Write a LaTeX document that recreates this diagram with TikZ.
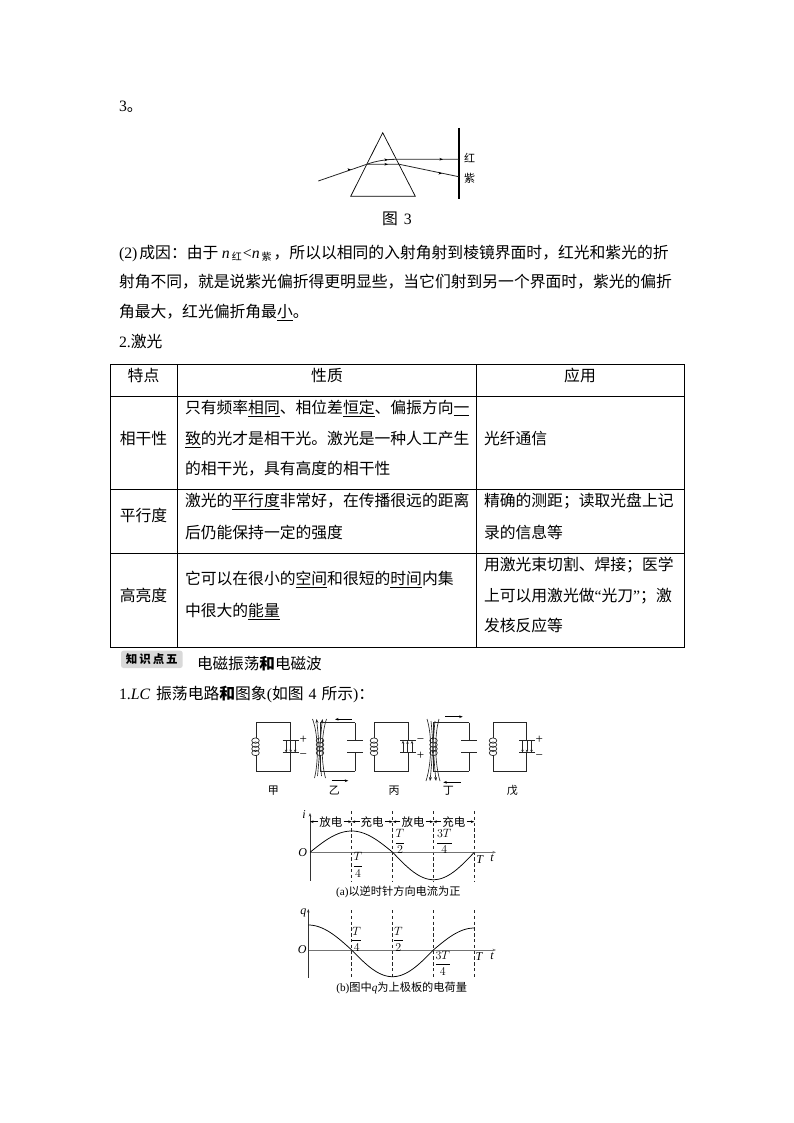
\documentclass[tikz,border=0pt]{standalone}
\usepackage{fontspec}
\usetikzlibrary{arrows.meta}
\setmainfont{Liberation Serif}
\newfontfamily\cjk{Noto Sans CJK SC}
\newfontfamily\lat{Liberation Serif}
\newcommand\fsz[1]{\fontsize{#1}{#1}\selectfont}
\newcommand\lt[1]{{\lat #1}}
\newcommand\li[1]{{\lat\itshape #1}}
\newcommand\ful[1]{\underline{#1}}
\newcommand\lowsub[1]{\raisebox{-2pt}{\fsz{10}#1}}
\newcommand\disfrac[2]{$\displaystyle\frac{#1}{#2}$}
\newcommand\coilat[2]{%
  \foreach \k in {0,1,2,3}{\draw[wire] ({#1},{#2+2.6+\k*4.1}) ellipse [x radius=3.8,y radius=2.7];}}
\newcommand\plates[2]{%
  \draw[wire] ({#1-8},740.7) -- ({#1+8},740.7) ({#1-8},752.7) -- ({#1+8},752.7);
  \draw[wire] (#1,722.7) -- (#1,740.7) (#1,752.7) -- (#1,771.3);}
\newcommand\fieldarrows[3]{%
  \foreach \d in {-4.5,0,4.5}{\draw[wire,-{Stealth[length=3pt,width=2.4pt]}] ({#1+\d},#2) -- ({#1+\d},#3);}}
\newcommand\fieldup[1]{%
  \draw[wire] ({#1-5},778) .. controls ({#1-1},762) and ({#1-1},735) .. ({#1-7},719);
  \draw[wire] ({#1+6},778) .. controls ({#1+1.5},762) and ({#1+1.5},735) .. ({#1+7},719);
  \draw[wire,-{Stealth[length=4pt,width=3pt]}] ({#1+2},776) .. controls ({#1+0.5},762) and ({#1-1},735) .. ({#1-3},719);
  \draw[wire,-{Stealth[length=4pt,width=3pt]}] ({#1-2},776) .. controls ({#1-0.5},762) and ({#1+1},735) .. ({#1+3},719);}
\newcommand\fielddown[1]{%
  \draw[wire] ({#1-6},719) .. controls ({#1-1},735) and ({#1-1},762) .. ({#1-7},781);
  \draw[wire] ({#1+6},719) .. controls ({#1+1.5},735) and ({#1+1.5},762) .. ({#1+7},781);
  \draw[wire,-{Stealth[length=4pt,width=3pt]}] ({#1+2},721) .. controls ({#1+0.5},735) and ({#1-1},762) .. ({#1-3},781);
  \draw[wire,-{Stealth[length=4pt,width=3pt]}] ({#1-2},721) .. controls ({#1-0.5},735) and ({#1+1},762) .. ({#1+3},781);}
\tikzset{
  wire/.style={line width=0.65pt,draw=black!85},
  bodytext/.style={inner sep=0,outer sep=0,anchor=base west,yshift=-5.6pt,font=\cjk\fsz{15.8}},
  cbody/.style={bodytext,anchor=base},
  rlabel/.style={inner sep=0,anchor=base,yshift=-4pt,font=\cjk\fsz{11}},
  slabel/.style={rlabel,font=\lat\fsz{13}},
  captext/.style={inner sep=0,anchor=center,font=\cjk\fsz{11.2}},
  fractext/.style={inner sep=0,anchor=center,font=\lat\fsz{12}},
  axisline/.style={line width=0.75pt,draw=black!80},
  xaxis/.style={line width=1pt,draw=black!55},
  guide/.style={line width=0.65pt,draw=black!85,dash pattern=on 3.4pt off 2.4pt},
  curveline/.style={line width=0.75pt,draw=black},
  ticktip/.style={-{Stealth[length=3.5pt,width=2.6pt]},line width=0.65pt},
  gridline/.style={line width=0.7pt,draw=black}
}
\begin{document}
\begin{tikzpicture}[x=1pt,y=-1pt]
\useasboundingbox (0,0) rectangle (794,1123);
\fill[white] (0,0) rectangle (794,1123);

% top text
\node[bodytext] (t3) at (119,106) {\lt{3}。};

% prism
\draw[line width=0.7pt] (382.7,132.7) -- (350.7,196.3) -- (415.3,196.3) -- cycle;
\draw[line width=1.8pt] (458.7,128) -- (458.7,198.7);
\draw[wire,line width=0.8pt] (318.3,181) -- (366.7,164.3);
\draw[wire,line width=0.8pt] (366.7,164.3) .. controls (376,161) and (386,159.3) .. (396.7,159.3) -- (458.7,159.3);
\draw[wire,line width=0.8pt] (366.7,164.3) -- (399.3,164.3) -- (458.7,176.7);
\foreach \p/\q in {351/169.6,388/159.8,388/164.3,443/159.3,442/173.3}{
  \draw[ticktip] (\p-3,\q) -- (\p,\q);}
\node[rlabel,font=\cjk\fsz{11}] (lred) at (469.5,158.7) {红};
\node[rlabel,font=\cjk\fsz{11}] (lvio) at (469.5,178.7) {紫};
\node[cbody] (fig3) at (397,219) {图\hspace{6pt}\lt{3}};

% paragraph
\node[bodytext] (p1) at (119,253) {\lt{(2)}\hspace{2pt}成因：由于 \li{n}\hspace{2pt}\lowsub{红}\hspace{1pt}\lt{<}\li{n}\hspace{2pt}\lowsub{紫}\hspace{2pt}，所以以相同的入射角射到棱镜界面时，红光和紫光的折};
\node[bodytext] (p2) at (119,282) {射角不同，就是说紫光偏折得更明显些，当它们射到另一个界面时，紫光的偏折};
\node[bodytext] (p3) at (119,312) {角最大，红光偏折角最\ful{小}。};
\node[bodytext] (p4) at (119,342) {\lt{2.}激光};

% table
\draw[gridline] (110,364) rectangle (684,647);
\draw[gridline] (177,364) -- (177,647) (476,364) -- (476,647);
\draw[gridline] (110,396) -- (684,396) (110,489) -- (684,489) (110,553) -- (684,553);
\node[cbody] (h1) at (143.5,376) {特点};
\node[cbody] (h2) at (327,376) {性质};
\node[cbody] (h3) at (580,376) {应用};
\node[cbody] (r1) at (143.5,439) {相干性};
\node[cbody] (r2) at (143.5,516) {平行度};
\node[cbody] (r3) at (143.5,596) {高亮度};
\node[bodytext] (a1) at (185,408) {只有频率\ful{相同}、相位差\ful{恒定}、偏振方向\ful{一}};
\node[bodytext] (a2) at (185,439) {\ful{致}的光才是相干光。激光是一种人工产生};
\node[bodytext] (a3) at (185,469) {的相干光，具有高度的相干性};
\node[bodytext] (b1) at (185,501) {激光的\ful{平行度}非常好，在传播很远的距离};
\node[bodytext] (b2) at (185,533) {后仍能保持一定的强度};
\node[bodytext] (c1) at (185,579) {它可以在很小的\ful{空间}和很短的\ful{时间}内集};
\node[bodytext] (c2) at (185,611) {中很大的\ful{能量}};
\node[bodytext] (d1) at (484,439) {光纤通信};
\node[bodytext] (e1) at (484,501) {精确的测距；读取光盘上记};
\node[bodytext] (e2) at (484,533) {录的信息等};
\node[bodytext] (f1) at (484,565) {用激光束切割、焊接；医学};
\node[bodytext] (f2) at (484,596) {上可以用激光做\lt{“}光刀\lt{”}；激};
\node[bodytext] (f3) at (484,626) {发核反应等};

% heading
\fill[black!15,rounded corners=2.5pt] (121,650.7) rectangle (182.7,668);
\node[inner sep=0,anchor=center,font=\cjk\bfseries\fsz{11.5}] (badge) at (151.8,659.5) {知\,识\,点\,五};
\node[bodytext,font=\cjk\fsz{15.6}] (head) at (197,664) {电磁振荡{\bfseries 和}电磁波};
\node[bodytext] (sec1) at (119,694) {\lt{1.}\li{LC}\hspace{6pt}振荡电路{\bfseries 和}图象\lt{(}如图\hspace{5pt}\lt{4}\hspace{5pt}所示\lt{)}：};

% circuits
% jia
\draw[wire] (256,738) -- (256,722.7) -- (290.7,722.7) -- (290.7,771.3) -- (256,771.3) -- (256,755);
\coilat{255.5}{738}
\fill[white] (285,741.2) rectangle (296,752.2);
\draw[wire] (282.7,740.7) -- (298.7,740.7) (282.7,752.7) -- (298.7,752.7);
\fieldarrows{290.7}{740.7}{752.7}
\node[slabel] (jp) at (303.3,739.3) {+};
\node[slabel] (jm) at (303.3,754.7) {−};
\node[rlabel] (jia) at (273.3,790) {甲};
% yi
\draw[wire] (320,738) -- (320,722.7) -- (355.3,722.7) (355.3,771.3) -- (320,771.3) -- (320,755);
\plates{355.3}{}
\coilat{320}{738}
\fieldup{319.5}
\draw[ticktip,line width=0.8pt] (351.7,719.3) -- (335,719.3);
\draw[ticktip,line width=0.8pt] (331.7,780.7) -- (348.3,780.7);
\node[rlabel] (yi) at (334.3,790) {乙};
% bing
\draw[wire] (374.3,738) -- (374.3,722.7) -- (408.3,722.7) -- (408.3,771.3) -- (374.3,771.3) -- (374.3,755);
\coilat{374}{738}
\fill[white] (401,741.2) rectangle (415,752.2);
\draw[wire] (400,740.7) -- (416,740.7) (400,752.7) -- (416,752.7);
\fieldarrows{407.5}{752.7}{740.7}
\node[slabel] (bm) at (420.5,739) {−};
\node[slabel] (bp) at (420.5,755) {+};
\node[rlabel] (bing) at (394,790) {丙};
% ding
\draw[wire] (433.3,738) -- (433.3,722.7) -- (469,722.7) (469,771.3) -- (433.3,771.3) -- (433.3,755);
\plates{469}{}
\coilat{433.5}{738}
\fielddown{433}
\draw[ticktip,line width=0.8pt] (445,716.7) -- (462.7,716.7);
\draw[ticktip,line width=0.8pt] (460.7,782.3) -- (443.3,782.3);
\node[rlabel] (ding) at (448.3,790) {丁};
% wu
\draw[wire] (493.3,738) -- (493.3,722.7) -- (526.7,722.7) -- (526.7,771.3) -- (493.3,771.3) -- (493.3,755);
\coilat{493}{738}
\fill[white] (520,741.2) rectangle (534,752.2);
\draw[wire] (519,740.7) -- (535,740.7) (519,752.7) -- (535,752.7);
\fieldarrows{527}{740.7}{752.7}
\node[slabel] (wp) at (539.3,739) {+};
\node[slabel] (wm) at (539.3,755) {−};
\node[rlabel] (wu) at (512.3,790) {戊};

% graph a
\foreach \gx in {351.7,392.7,433.3,474.3}{\draw[guide] (\gx,811) -- (\gx,882);}
\draw[xaxis,ticktip,line width=1pt] (310,852.3) -- (496,852.3);
\draw[axisline,ticktip] (310,880.7) -- (310,813);
\draw[curveline] plot[domain=0:90,samples=25,smooth] ({310+\x*41.7/90},{852.3-21.3*sin(\x)});
\draw[curveline] plot[domain=90:180,samples=25,smooth] ({351.7+(\x-90)*41/90},{852.3-21.3*sin(\x)});
\draw[curveline] plot[domain=180:360,samples=40,smooth] ({392.7+(\x-180)*81.6/180},{852.3-27.4*sin(\x)});
\node[inner sep=0,font=\lat\itshape\fsz{12}] (ai) at (304,815) {i};
\node[inner sep=0,font=\lat\itshape\fsz{12}] (aO) at (302.7,852.3) {O};
\node[inner sep=0,font=\lat\itshape\fsz{12}] (at) at (492,858) {t};
\node[inner sep=0,font=\lat\itshape\fsz{12}] (aT) at (479.7,859.3) {T};
\node[fractext] (af1) at (358,865) {\disfrac{T}{4}};
\node[fractext] (af2) at (400,841.7) {\disfrac{T}{2}};
\node[fractext] (af3) at (444.3,841.7) {\disfrac{3T}{4}};
\foreach \na/\xa/\xb/\lab in {ga/310/351.7/放电,gb/351.7/392.7/充电,gc/392.7/433.3/放电,gd/433.3/474.3/充电}{
  \node[inner sep=1pt,fill=white,font=\cjk\fsz{11.5}] (\na) at ({(\xa+\xb)/2},821.7) {\lab};
  \draw[ticktip,line width=0.6pt] (\na.west) -- (\xa,821.7);
  \draw[ticktip,line width=0.6pt] (\na.east) -- (\xb,821.7);}
\node[captext] (capa) at (398.3,891.7) {\lt{(a)}以逆时针方向电流为正};

% graph b
\foreach \gx in {351.7,392.7,433.3,474.3}{\draw[guide] (\gx,910) -- (\gx,978);}
\draw[xaxis,ticktip,line width=1pt] (308.3,950) -- (496,950);
\draw[axisline,ticktip] (308.3,977.7) -- (308.3,909);
\draw[curveline] plot[domain=0:90,samples=25,smooth] ({308.3+\x*43.4/90},{950-25*cos(\x)});
\draw[curveline] plot[domain=90:270,samples=40,smooth] ({351.7+(\x-90)*81.6/180},{950-26.7*cos(\x)});
\draw[curveline] plot[domain=270:360,samples=25,smooth] ({433.3+(\x-270)*41/90},{950-22*cos(\x)});
\node[inner sep=0,font=\lat\itshape\fsz{12}] (bq) at (303.3,912.7) {q};
\node[inner sep=0,font=\lat\itshape\fsz{12}] (bO) at (302.3,950) {O};
\node[inner sep=0,font=\lat\itshape\fsz{12}] (bt) at (492,956) {t};
\node[inner sep=0,font=\lat\itshape\fsz{12}] (bT) at (479,956.7) {T};
\node[fractext] (bf1) at (356.7,939.3) {\disfrac{T}{4}};
\node[fractext] (bf2) at (398.3,939.3) {\disfrac{T}{2}};
\node[fractext] (bf3) at (442.7,963.3) {\disfrac{3T}{4}};
\node[captext] (capb) at (401.7,988.3) {\lt{(b)}图中\li{q}为上极板的电荷量};
\end{tikzpicture}
\end{document}
